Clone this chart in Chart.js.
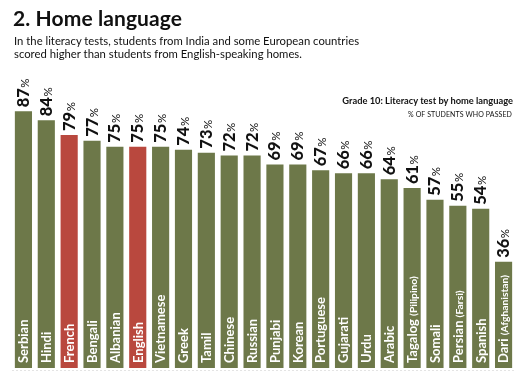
<!DOCTYPE html>
<html><head><meta charset="utf-8">
<script src="https://cdn.jsdelivr.net/npm/chart.js@4/dist/chart.umd.min.js"></script>
<style>
html,body{margin:0;padding:0;background:#fff;}
#wrap{position:relative;width:528px;height:381px;overflow:hidden;font-family:Lato,"Open Sans",sans-serif;}
#title{position:absolute;left:13px;top:5px;font-size:21px;font-weight:700;color:#111;letter-spacing:0.1px;}
#sub{position:absolute;left:14px;top:34px;font-size:11.3px;line-height:13px;color:#111;}
#leg1{position:absolute;right:15px;top:95px;font-size:9.3px;font-weight:700;color:#111;}
#leg2{position:absolute;right:16px;top:110px;font-size:7px;color:#111;letter-spacing:0.1px;}
canvas{position:absolute;left:0;top:0;}
</style></head><body>
<div id="wrap">
<canvas id="c" width="528" height="381"></canvas>
<div id="title">2. Home language</div>
<div id="sub">In the literacy tests, students from India and some European countries<br>scored higher than students from English-speaking homes.</div>
<div id="leg1">Grade 10: Literacy test by home language</div>
<div id="leg2">% OF STUDENTS WHO PASSED</div>
</div>
<script>
const languages = ["Serbian","Hindi","French","Bengali","Albanian","English","Vietnamese","Greek","Tamil","Chinese","Russian","Punjabi","Korean","Portuguese","Gujarati","Urdu","Arabic","Tagalog (Pilipino)","Somali","Persian (Farsi)","Spanish","Dari (Afghanistan)"];
const passed = [87,84,79,77,75,75,75,74,73,72,72,69,69,67,66,66,64,61,57,55,54,36];
const highlighted = ["French","English"];

const GREEN = "#6d7849", RED = "#b9483e";
const colors = languages.map(l => highlighted.includes(l) ? RED : GREEN);

const labelPlugin = {
  id: 'labels',
  afterDatasetsDraw(chart) {
    const ctx = chart.ctx;
    const meta = chart.getDatasetMeta(0);
    const base = chart.scales.y.getPixelForValue(0);
    meta.data.forEach((bar, i) => {
      ctx.save();
      ctx.translate(bar.x + 5.5, bar.y - 4);
      ctx.rotate(-Math.PI / 2);
      ctx.fillStyle = "#111";
      ctx.textBaseline = "alphabetic";
      ctx.textAlign = "left";
      ctx.font = "900 16.5px Lato";
      const num = String(passed[i]);
      ctx.fillText(num, 0, 0);
      const w = ctx.measureText(num).width;
      ctx.font = "400 11.5px Lato";
      ctx.fillText("%", w + 0.5, 0);
      ctx.restore();
      ctx.save();
      ctx.translate(bar.x + 4.8, base - 5);
      ctx.rotate(-Math.PI / 2);
      ctx.fillStyle = "#fff";
      ctx.textAlign = "left";
      const name = languages[i];
      const p = name.indexOf(" (");
      const main = p >= 0 ? name.slice(0, p) : name;
      ctx.font = "700 13px Lato";
      ctx.fillText(main, 0, 0);
      if (p >= 0) {
        const mw = ctx.measureText(main + " ").width;
        ctx.font = "700 10.3px Lato";
        ctx.fillText(name.slice(p + 1), mw, 0);
      }
      ctx.restore();
    });
    ctx.save();
    ctx.strokeStyle = "#e4e4e4";
    ctx.setLineDash([2, 2]);
    ctx.beginPath();
    ctx.moveTo(chart.chartArea.left, base + 2.5);
    ctx.lineTo(chart.chartArea.right, base + 2.5);
    ctx.stroke();
    ctx.restore();
  }
};

new Chart(document.getElementById('c'), {
  type: 'bar',
  data: {
    labels: languages,
    datasets: [{ data: passed, backgroundColor: colors, borderWidth: 0,
      barPercentage: 0.75, categoryPercentage: 1 }]
  },
  options: {
    responsive: false,
    animation: false,
    layout: { padding: { top: 73, bottom: 13, left: 12, right: 13 } },
    plugins: { legend: { display: false }, tooltip: { enabled: false } },
    scales: {
      x: { display: false },
      y: { display: false, min: 0, max: 100 }
    }
  },
  plugins: [labelPlugin]
});
</script>
</body></html>
